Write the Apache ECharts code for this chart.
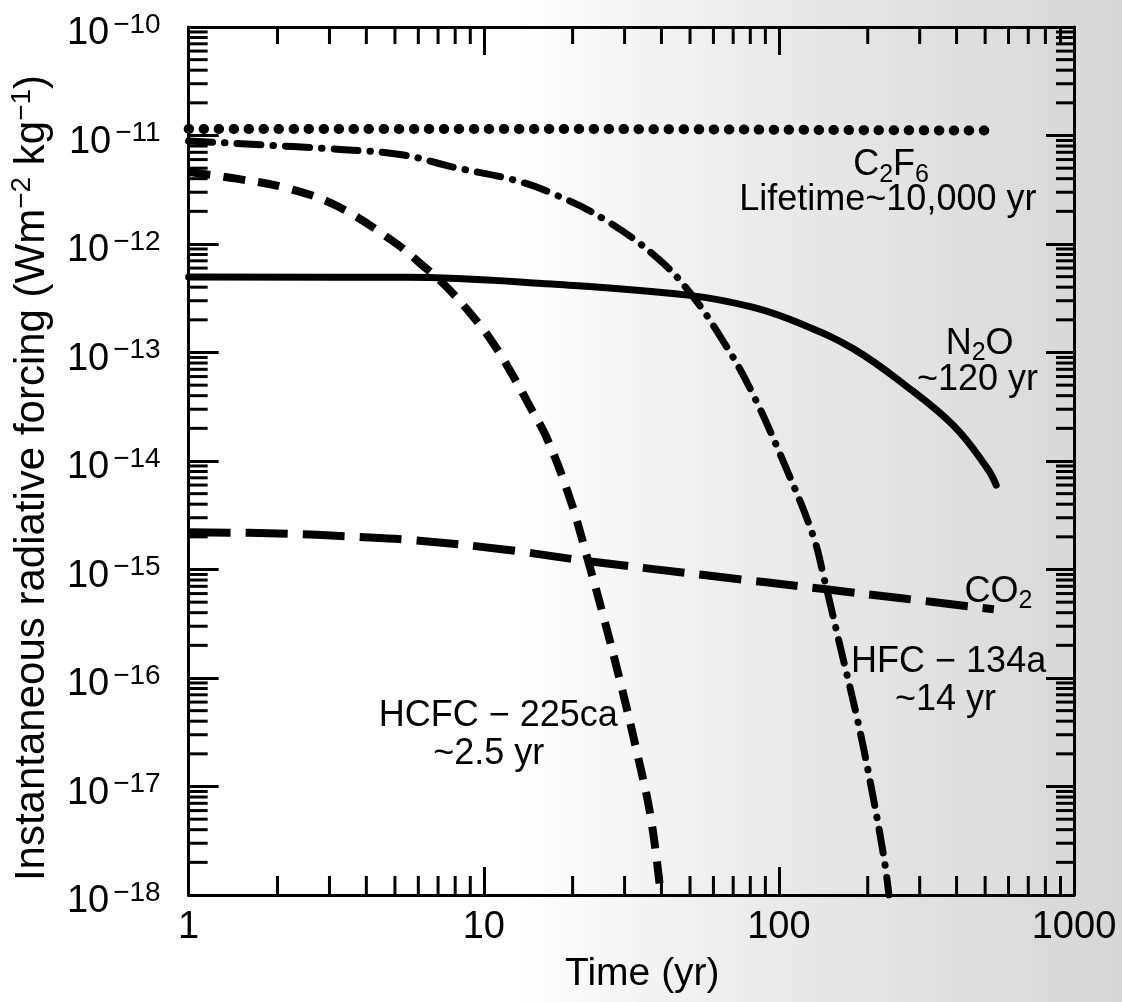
<!DOCTYPE html>
<html>
<head>
<meta charset="utf-8">
<title>Instantaneous radiative forcing</title>
<script src="https://cdn.jsdelivr.net/npm/echarts@6/dist/echarts.min.js"></script>
<style>
  html, body { margin: 0; padding: 0; background: #fff; }
  #chart { width: 1122px; height: 1002px; }
</style>
</head>
<body>
<div id="chart"></div>
<script>
// ---- axis ranges and tick labels ----
const X_MIN = 1, X_MAX = 1000;
const Y_MIN = 1e-18, Y_MAX = 1e-10;
const xTickLabels = ['1', '10', '100', '1000'];
const yTickExponents = [-18, -17, -16, -15, -14, -13, -12, -11, -10];

// ---- forcing after a 1 kg pulse, W m-2 kg-1, against time in years ----
const c2f6Time    = [1, 10, 50, 200, 540];
const c2f6Forcing = [1.15e-11, 1.15e-11, 1.14e-11, 1.12e-11, 1.11e-11];

const n2oTime    = [1, 5.4, 17, 49, 82, 121, 179, 265, 392, 509, 545];
const n2oForcing = [4.96e-13, 4.93e-13, 4.27e-13, 3.38e-13, 2.6e-13, 1.8e-13,
                    1.08e-13, 5.1e-14, 2.1e-14, 8.5e-15, 6.0e-15];

const hfcTime    = [1, 3.35, 5.35, 7.9, 12.6, 17.2, 25.5, 38.6, 50.2, 65, 80.4,
                    106, 131, 142, 162, 184, 204, 227, 236];
const hfcForcing = [8.9e-12, 7.4e-12, 6.6e-12, 5.1e-12, 3.9e-12, 2.9e-12, 1.7e-12,
                    7.5e-13, 3.5e-13, 1.25e-13, 4.5e-14, 8.5e-15, 2.0e-15, 8.5e-16,
                    1.86e-16, 4.3e-17, 1.1e-17, 2.2e-18, 1.0e-18];

const hcfcTime    = [1, 1.45, 2.15, 3.17, 4.95, 6.1, 7.3, 9.0, 10.8, 12.6, 14.4,
                     16.4, 19.7, 22.3, 25.5, 29.1, 33.0, 36.8, 39.8];
const hcfcForcing = [4.6e-12, 4.0e-12, 3.27e-12, 2.25e-12, 1.05e-12, 6.6e-13, 4.3e-13,
                     2.3e-13, 1.2e-13, 6.0e-14, 3.1e-14, 1.6e-14, 4.3e-15, 1.35e-15,
                     3.6e-16, 8.9e-17, 2.1e-17, 5.2e-18, 1.0e-18];

const co2Time    = [1, 2, 3.7, 5.8, 11.7, 22.3, 55.7, 142, 265, 535];
const co2Forcing = [2.2e-15, 2.15e-15, 2.0e-15, 1.86e-15, 1.53e-15, 1.2e-15,
                    8.9e-16, 6.6e-16, 5.4e-16, 4.3e-16];

// ---- curve annotations, anchored in data coordinates ----
const annotationText = [
  'C{sub|2}F{sub|6}', 'Lifetime~10,000 yr',
  'N{sub|2}O', '~120 yr',
  'CO{sub|2}',
  'HFC − 134a', '~14 yr',
  'HCFC − 225ca', '~2.5 yr'
];
const annotationTime    = [240, 234, 479, 471, 555, 376, 367, 11.2, 10.4];
const annotationForcing = [5.3e-12, 2.55e-12, 1.2e-13, 5.6e-14, 6.2e-16, 1.4e-16, 6.3e-17, 4.5e-17, 2.0e-17];

const FONT = '"Liberation Sans", Arial, Helvetica, sans-serif';
const INK = '#000';

const pairs = (xs, ys) => xs.map((x, i) => [x, ys[i]]);

// minor (2..9) log ticks for each decade
const xMinorTicks = [];
for (let d = 0; d < 3; d++) for (let k = 2; k <= 9; k++) xMinorTicks.push(k * Math.pow(10, d));
const yMinorTicks = [];
for (let e = -18; e < -10; e++) for (let k = 2; k <= 9; k++) yMinorTicks.push(k * Math.pow(10, e));

const yLabel = v => {
  const e = Math.round(Math.log10(v));
  return yTickExponents.includes(e) ? '{a|10}{b|' + ('−' + Math.abs(e)) + '}' : '';
};
const xLabel = v => {
  const i = Math.round(Math.log10(v));
  return xTickLabels[i] || '';
};

const tickLine = { color: INK, width: 3 };
const axisBase = {
  type: 'log', logBase: 10,
  axisLine: { show: true, lineStyle: { color: INK, width: 3 } },
  axisTick: { show: true, inside: true, length: 28, lineStyle: tickLine },
  splitLine: { show: false },
  minorTick: { show: false }
};

const chart = echarts.init(document.getElementById('chart'), null, { renderer: 'canvas' });

const lineSeries = (name, data, style) => ({
  name, type: 'line', data, showSymbol: false, symbol: 'none',
  smooth: 0.4, silent: true,
  lineStyle: Object.assign({ color: INK, join: 'round' }, style), z: 3
});

chart.setOption({
  backgroundColor: '#fff',
  animation: false,
  // faint grey toward the right-hand side of the sheet
  graphic: [{
    type: 'rect', z: -100, silent: true,
    shape: { x: 0, y: 0, width: 1122, height: 1002 },
    style: {
      fill: new echarts.graphic.LinearGradient(0, 0, 1, 0, [
        { offset: 0, color: '#ffffff' },
        { offset: 0.45, color: '#ffffff' },
        { offset: 0.7, color: '#e9e9e9' },
        { offset: 1, color: '#d6d6d6' }
      ])
    }
  }],
  grid: { left: 187, right: 48, top: 27, bottom: 107, containLabel: false },
  xAxis: [
    Object.assign({}, axisBase, {
      position: 'bottom', min: X_MIN, max: X_MAX, splitNumber: 3,
      axisLabel: {
        show: true, margin: 14, color: INK, fontSize: 38, fontFamily: FONT,
        showMinLabel: true, showMaxLabel: true, formatter: xLabel
      },
      name: 'Time (yr)', nameLocation: 'middle', nameGap: 60,
      nameTextStyle: { color: INK, fontSize: 39, fontFamily: FONT, padding: [0, 0, 0, 22] }
    }),
    Object.assign({}, axisBase, {
      position: 'top', min: X_MIN, max: X_MAX, splitNumber: 3,
      axisLabel: { show: false }
    })
  ],
  yAxis: [
    Object.assign({}, axisBase, {
      position: 'left', min: Y_MIN, max: Y_MAX, splitNumber: 8, interval: 1,
      axisTick: { show: true, inside: true, length: 30, lineStyle: tickLine },
      axisLabel: {
        show: true, margin: 28, color: INK, fontFamily: FONT,
        showMinLabel: true, showMaxLabel: true, formatter: yLabel,
        padding: [10, 0, 0, 0],
        rich: {
          a: { fontSize: 38, lineHeight: 42, fontFamily: FONT, color: INK, verticalAlign: 'bottom' },
          b: { fontSize: 28, lineHeight: 28, fontFamily: FONT, color: INK, verticalAlign: 'top', padding: [0, 0, 0, 4] }
        }
      },
      name: 'Instantaneous radiative forcing (Wm{s|−2} kg{s|−1})',
      nameLocation: 'middle', nameGap: 130, nameRotate: 90,
      nameTextStyle: {
        color: INK, fontSize: 42, fontFamily: FONT, lineHeight: 48,
        padding: [0, 34, 0, 0],
        rich: {
          s: { fontSize: 28, lineHeight: 28, fontFamily: FONT, color: INK, verticalAlign: 'top' }
        }
      }
    }),
    Object.assign({}, axisBase, {
      position: 'right', min: Y_MIN, max: Y_MAX, splitNumber: 8, interval: 1,
      axisLabel: { show: false }
    })
  ],
  series: [
    // minor ticks along the bottom and top edges
    {
      type: 'custom', name: 'x minor ticks', silent: true, clip: false, z: 4,
      data: xMinorTicks.map(t => [t, Y_MIN]),
      renderItem: (params, api) => {
        const t = api.value(0);
        const b = api.coord([t, Y_MIN]);
        const u = api.coord([t, Y_MAX]);
        return {
          type: 'group',
          children: [
            { type: 'line', shape: { x1: b[0], y1: b[1], x2: b[0], y2: b[1] - 19 }, style: { stroke: INK, lineWidth: 3 } },
            { type: 'line', shape: { x1: u[0], y1: u[1], x2: u[0], y2: u[1] + 17 }, style: { stroke: INK, lineWidth: 3 } }
          ]
        };
      }
    },
    // minor ticks along the left and right edges
    {
      type: 'custom', name: 'y minor ticks', silent: true, clip: false, z: 4,
      data: yMinorTicks.map(v => [X_MIN, v]),
      renderItem: (params, api) => {
        const v = api.value(1);
        const l = api.coord([X_MIN, v]);
        const r = api.coord([X_MAX, v]);
        return {
          type: 'group',
          children: [
            { type: 'line', shape: { x1: l[0], y1: l[1], x2: l[0] + 19, y2: l[1] }, style: { stroke: INK, lineWidth: 3 } },
            { type: 'line', shape: { x1: r[0], y1: r[1], x2: r[0] - 18, y2: r[1] }, style: { stroke: INK, lineWidth: 3 } }
          ]
        };
      }
    },
    lineSeries('C2F6', pairs(c2f6Time, c2f6Forcing), { width: 10, type: [0.5, 14.5], cap: 'round' }),
    lineSeries('HFC-134a', pairs(hfcTime, hfcForcing), { width: 7, type: [24, 12, 0.5, 12], cap: 'round' }),
    lineSeries('HCFC-225ca', pairs(hcfcTime, hcfcForcing), { width: 8, type: [22, 13], cap: 'butt' }),
    lineSeries('N2O', pairs(n2oTime, n2oForcing), { width: 7, cap: 'round' }),
    lineSeries('CO2', pairs(co2Time, co2Forcing), { width: 8, type: [42, 15], cap: 'butt' }),
    // text labels beside the curves
    {
      type: 'scatter', name: 'labels', silent: true, z: 5,
      symbolSize: 1, itemStyle: { color: 'rgba(0,0,0,0)', opacity: 1 },
      emphasis: { disabled: true },
      data: annotationText.map((txt, i) => ({
        value: [annotationTime[i], annotationForcing[i]],
        label: { formatter: txt }
      })),
      label: {
        show: true, position: 'inside', color: INK, opacity: 1, fontSize: 36, fontFamily: FONT,
        lineHeight: 44,
        rich: {
          sub: { fontSize: 25, lineHeight: 25, fontFamily: FONT, color: INK, verticalAlign: 'bottom' }
        }
      }
    }
  ]
});
</script>
</body>
</html>
